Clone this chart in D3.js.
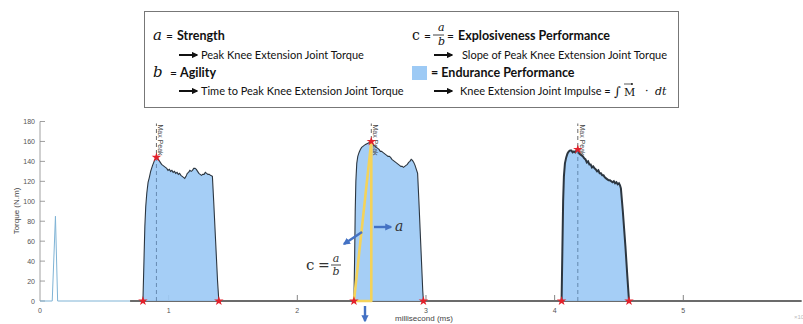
<!DOCTYPE html>
<html>
<head>
<meta charset="utf-8">
<script src="https://cdn.jsdelivr.net/npm/d3@7"></script>
<style>
  body { margin: 0; background: #fff; }
  svg { display: block; }
</style>
</head>
<body>
<svg id="chart"></svg>
<script>
// ---- data (time as on the axis, torque in N.m) ----
const xTicks = [0, 1, 2, 3, 4, 5];
const yTicks = [0, 20, 40, 60, 80, 100, 120, 140, 160, 180];

// small calibration spike + resting signal before first effort
const restSignal = [[0, 0], [0.095, 0], [0.12, 85], [0.137, 0], [0.70, 0]];
const baseSignal = [[0.70, 0], [5.92, 0]];

const bout1 = [
  [0.800, 0], [0.808, 40], [0.815, 75], [0.822, 95], [0.830, 108], [0.840, 119],
  [0.850, 124], [0.860, 130], [0.875, 136], [0.890, 141], [0.905, 144], [0.915, 143],
  [0.925, 141], [0.935, 139], [0.945, 137], [0.955, 136], [0.965, 135], [0.975, 134],
  [0.985, 133], [0.995, 131], [1.005, 132], [1.015, 130], [1.025, 131], [1.035, 129],
  [1.045, 130], [1.055, 128], [1.065, 129], [1.075, 127], [1.085, 128], [1.095, 126],
  [1.105, 125], [1.115, 124], [1.125, 123], [1.135, 125], [1.145, 128], [1.155, 129],
  [1.165, 131], [1.175, 130], [1.185, 131], [1.195, 133], [1.205, 133], [1.215, 132],
  [1.225, 130], [1.235, 128], [1.245, 127], [1.255, 126], [1.265, 127], [1.275, 127],
  [1.285, 129], [1.295, 128], [1.305, 127], [1.315, 127], [1.325, 126], [1.340, 125],
  [1.350, 100], [1.365, 60], [1.380, 20], [1.390, 0]
];

const bout2 = [
  [2.440, 0], [2.445, 40], [2.450, 90], [2.455, 120], [2.462, 138], [2.470, 145],
  [2.480, 149], [2.490, 152], [2.500, 154], [2.510, 155], [2.520, 156], [2.530, 157],
  [2.545, 158], [2.560, 159], [2.575, 160], [2.585, 158], [2.595, 156], [2.605, 155],
  [2.615, 154], [2.625, 153], [2.635, 152], [2.645, 150], [2.655, 150], [2.665, 149],
  [2.675, 148], [2.685, 147], [2.695, 146], [2.705, 145], [2.715, 145], [2.725, 144],
  [2.735, 142], [2.745, 141], [2.755, 140], [2.765, 139], [2.775, 138], [2.785, 137],
  [2.795, 136], [2.805, 135], [2.815, 135], [2.825, 134], [2.835, 135], [2.845, 136],
  [2.855, 137], [2.865, 139], [2.875, 140], [2.885, 142], [2.895, 141], [2.905, 139],
  [2.915, 136], [2.925, 132], [2.935, 128], [2.945, 100], [2.955, 70], [2.965, 40],
  [2.975, 10], [2.980, 0]
];

const bout3 = [
  [4.054, 0], [4.060, 50], [4.066, 100], [4.072, 125], [4.080, 138], [4.090, 144],
  [4.100, 148], [4.110, 150], [4.120, 151], [4.130, 151], [4.140, 149], [4.150, 150],
  [4.160, 149], [4.170, 151], [4.180, 152], [4.190, 148], [4.200, 147], [4.210, 146],
  [4.220, 145], [4.230, 143], [4.240, 142], [4.250, 139], [4.260, 140], [4.270, 137],
  [4.280, 137], [4.290, 134], [4.300, 135], [4.310, 133], [4.320, 132], [4.330, 130],
  [4.340, 131], [4.350, 128], [4.360, 128], [4.370, 126], [4.380, 126], [4.390, 124],
  [4.400, 123], [4.410, 122], [4.420, 121], [4.430, 121], [4.440, 120], [4.450, 119],
  [4.460, 120], [4.470, 118], [4.480, 119], [4.490, 117], [4.500, 118], [4.508, 116],
  [4.515, 113], [4.530, 90], [4.550, 55], [4.565, 25], [4.578, 0]
];

const bouts = [bout1, bout2, bout3];
const onsets = [0.800, 2.440, 4.054];
const offsets = [1.390, 2.980, 4.578];
const peaks = [[0.905, 144], [2.575, 160], [4.180, 152]];
const peakLineTop = 178;

// ---- layout ----
const width = 803;
const height = 324;
const svg = d3.select("#chart").attr("width", width).attr("height", height);

const x = d3.scaleLinear().domain([0, 5]).range([40, 683.3]);
const y = d3.scaleLinear().domain([0, 180]).range([301, 121.5]);

const chartFont = "'Liberation Sans', Arial, sans-serif";
const boxFont = "Lato, 'Open Sans', sans-serif";
const mathFont = "'DejaVu Serif', 'Liberation Serif', serif";

// arrow markers
const defs = svg.append("defs");
defs.append("marker")
  .attr("id", "headBlack").attr("viewBox", "0 0 10 10")
  .attr("refX", 8).attr("refY", 5).attr("markerWidth", 3.2).attr("markerHeight", 3.2)
  .attr("orient", "auto")
  .append("path").attr("d", "M0,0L10,5L0,10z").attr("fill", "#111");
defs.append("marker")
  .attr("id", "headBlue").attr("viewBox", "0 0 10 10")
  .attr("refX", 8).attr("refY", 5).attr("markerWidth", 3).attr("markerHeight", 3)
  .attr("orient", "auto")
  .append("path").attr("d", "M0,0L10,5L0,10z").attr("fill", "#4472c4");

// ---- axes ----
svg.append("line")
  .attr("x1", x(0)).attr("x2", x(0)).attr("y1", y(0)).attr("y2", y(180))
  .attr("stroke", "#888").attr("stroke-width", 0.8);

const yAxis = svg.append("g");
yAxis.selectAll("line").data(yTicks).join("line")
  .attr("x1", x(0)).attr("x2", x(0) + 5)
  .attr("y1", d => y(d)).attr("y2", d => y(d))
  .attr("stroke", "#888").attr("stroke-width", 0.8);
yAxis.selectAll("text").data(yTicks).join("text")
  .attr("x", x(0) - 5).attr("y", d => y(d) + 2.5)
  .attr("text-anchor", "end")
  .attr("font-family", chartFont).attr("font-size", 7).attr("fill", "#555")
  .text(d => d);

const xAxis = svg.append("g");
xAxis.selectAll("line").data(xTicks.slice(1)).join("line")
  .attr("x1", d => x(d)).attr("x2", d => x(d))
  .attr("y1", y(0)).attr("y2", y(0) - 6)
  .attr("stroke", "#666").attr("stroke-width", 0.8);
xAxis.selectAll("text").data(xTicks).join("text")
  .attr("x", d => x(d)).attr("y", y(0) + 11.5)
  .attr("text-anchor", "middle")
  .attr("font-family", chartFont).attr("font-size", 7).attr("fill", "#555")
  .text(d => d);

svg.append("text")
  .attr("x", 424).attr("y", 321)
  .attr("text-anchor", "middle")
  .attr("font-family", chartFont).attr("font-size", 8).attr("fill", "#444")
  .text("millisecond (ms)");

svg.append("text")
  .attr("transform", `translate(19,211) rotate(-90)`)
  .attr("text-anchor", "middle")
  .attr("font-family", chartFont).attr("font-size", 8).attr("fill", "#444")
  .text("Torque (N.m)");

svg.append("text")
  .attr("x", 794).attr("y", 319)
  .attr("font-family", chartFont).attr("font-size", 6).attr("fill", "#bbb")
  .text("×10⁴");

// ---- signal ----
const line = d3.line().x(d => x(d[0])).y(d => y(d[1]));
const area = d3.area().x(d => x(d[0])).y0(y(0)).y1(d => y(d[1]));

svg.append("path").datum(restSignal)
  .attr("d", line).attr("fill", "none")
  .attr("stroke", "#7fb3d5").attr("stroke-width", 1);

svg.append("path").datum(baseSignal)
  .attr("d", line).attr("fill", "none")
  .attr("stroke", "#6b6b6b").attr("stroke-width", 2);

// dashed max-peak guides
svg.selectAll(".peakGuide").data(peaks).join("line")
  .attr("class", "peakGuide")
  .attr("x1", d => x(d[0])).attr("x2", d => x(d[0]))
  .attr("y1", y(0)).attr("y2", y(peakLineTop))
  .attr("stroke", "#444").attr("stroke-width", 0.8)
  .attr("stroke-dasharray", "4,3");

svg.selectAll(".bout").data(bouts).join("path")
  .attr("class", "bout")
  .attr("d", area)
  .attr("fill", "#9dcaf5").attr("fill-opacity", 0.92);

svg.selectAll(".boutLine").data(bouts).join("path")
  .attr("class", "boutLine")
  .attr("d", line)
  .attr("fill", "none")
  .attr("stroke", "#2c3640")
  .attr("stroke-width", (d, i) => i === 2 ? 2 : 1.1);

// dashed guide stays visible inside the fill
svg.selectAll(".peakGuideTop").data(peaks).join("line")
  .attr("class", "peakGuideTop")
  .attr("x1", d => x(d[0])).attr("x2", d => x(d[0]))
  .attr("y1", y(0)).attr("y2", d => y(d[1]))
  .attr("stroke", "#5a7ea3").attr("stroke-width", 0.8)
  .attr("stroke-dasharray", "4,3");

svg.selectAll(".peakLabel").data(peaks).join("text")
  .attr("class", "peakLabel")
  .attr("transform", d => `translate(${x(d[0]) + 2},${y(peakLineTop) + 1}) rotate(90)`)
  .attr("font-family", chartFont).attr("font-size", 7).attr("fill", "#444")
  .text("Max Peak");

// ---- explosiveness triangle on second effort ----
const tri = [[onsets[1], 0], [peaks[1][0], 0], peaks[1], [onsets[1], 0]];
svg.append("path").datum(tri)
  .attr("d", line).attr("fill", "none")
  .attr("stroke", "#f5d35a").attr("stroke-width", 2.6)
  .attr("stroke-linejoin", "round");

// ---- markers ----
const star = d3.symbol().type(d3.symbolStar).size(28);
const markers = onsets.map(t => [t, 0]).concat(offsets.map(t => [t, 0]), peaks);
svg.selectAll(".mark").data(markers).join("path")
  .attr("class", "mark")
  .attr("transform", d => `translate(${x(d[0])},${y(d[1])})`)
  .attr("d", star)
  .attr("fill", "#e3212b");

// ---- annotation arrows ----
const blue = "#4472c4";
function arrow(x1, y1, x2, y2, marker, color, w) {
  svg.append("line")
    .attr("x1", x1).attr("y1", y1).attr("x2", x2).attr("y2", y2)
    .attr("stroke", color).attr("stroke-width", w)
    .attr("marker-end", `url(#${marker})`);
}
arrow(374, 227, 391, 227, "headBlue", blue, 2.4);
arrow(362, 232, 344, 244, "headBlue", blue, 2.4);
arrow(365, 306, 365, 321, "headBlue", blue, 2.4);

svg.append("text")
  .attr("x", 395).attr("y", 231)
  .attr("font-family", mathFont).attr("font-style", "italic")
  .attr("font-size", 14).attr("fill", "#333")
  .text("a");

const cfrac = svg.append("g").attr("font-family", mathFont).attr("fill", "#333");
cfrac.append("text").attr("x", 306).attr("y", 270).attr("font-size", 15).text("c");
cfrac.append("text").attr("x", 318).attr("y", 270).attr("font-size", 14).text("=");
cfrac.append("text").attr("x", 336).attr("y", 262).attr("font-size", 11)
  .attr("font-style", "italic").attr("text-anchor", "middle").text("a");
cfrac.append("line").attr("x1", 331).attr("x2", 341).attr("y1", 265).attr("y2", 265)
  .attr("stroke", "#333").attr("stroke-width", 0.9);
cfrac.append("text").attr("x", 336).attr("y", 275).attr("font-size", 11)
  .attr("font-style", "italic").attr("text-anchor", "middle").text("b");

// ---- legend box ----
const box = svg.append("g");
box.append("rect")
  .attr("x", 144.5).attr("y", 11.5).attr("width", 534).attr("height", 96)
  .attr("fill", "#fff").attr("stroke", "#777").attr("stroke-width", 1);

function label(xp, yp, txt, size, weight) {
  box.append("text").attr("x", xp).attr("y", yp)
    .attr("font-family", boxFont).attr("font-size", size)
    .attr("font-weight", weight).attr("fill", "#111").text(txt);
}
function mathText(xp, yp, txt, size, italic) {
  box.append("text").attr("x", xp).attr("y", yp)
    .attr("font-family", mathFont).attr("font-size", size)
    .attr("font-style", italic ? "italic" : "normal").attr("fill", "#111").text(txt);
}

// left column
mathText(153, 40, "a", 15, true);
label(166, 40, "=", 12, 400);
label(177, 40, "Strength", 12.5, 700);
arrow(179, 55, 197, 55, "headBlack", "#111", 2);
label(201, 59, "Peak Knee Extension Joint Torque", 11, 400);

mathText(153, 77, "b", 15, true);
label(170, 77, "=", 12, 400);
label(180, 77, "Agility", 12.5, 700);
arrow(179, 91, 197, 91, "headBlack", "#111", 2);
label(201, 95, "Time to Peak Knee Extension Joint Torque", 11, 400);

// right column
mathText(412, 40, "c", 14, false);
label(424, 40, "=", 12, 400);
mathText(438, 31, "a", 11, true);
box.append("line").attr("x1", 433).attr("x2", 444).attr("y1", 35).attr("y2", 35)
  .attr("stroke", "#111").attr("stroke-width", 0.8);
mathText(438, 45, "b", 11, true);
label(447, 40, "=", 12, 400);
label(458, 40, "Explosiveness Performance", 12.5, 700);

arrow(434, 55, 452, 55, "headBlack", "#111", 2);
label(462, 59, "Slope of Peak Knee Extension Joint Torque", 11, 400);

box.append("rect").attr("x", 412).attr("y", 66).attr("width", 15).attr("height", 14)
  .attr("fill", "#9dcaf5");
label(431, 77, "= Endurance Performance", 12.5, 700);

arrow(434, 91, 452, 91, "headBlack", "#111", 2);
label(460, 95, "Knee Extension Joint Impulse =", 11, 400);
mathText(614, 96, "∫", 13, false);
mathText(624, 96, "M", 11, false);
box.append("line").attr("x1", 624).attr("x2", 633).attr("y1", 84).attr("y2", 84)
  .attr("stroke", "#111").attr("stroke-width", 0.7).attr("marker-end", "url(#headBlack)");
mathText(645, 95, "·", 11, false);
mathText(655, 95, "dt", 11, true);
</script>
</body>
</html>
